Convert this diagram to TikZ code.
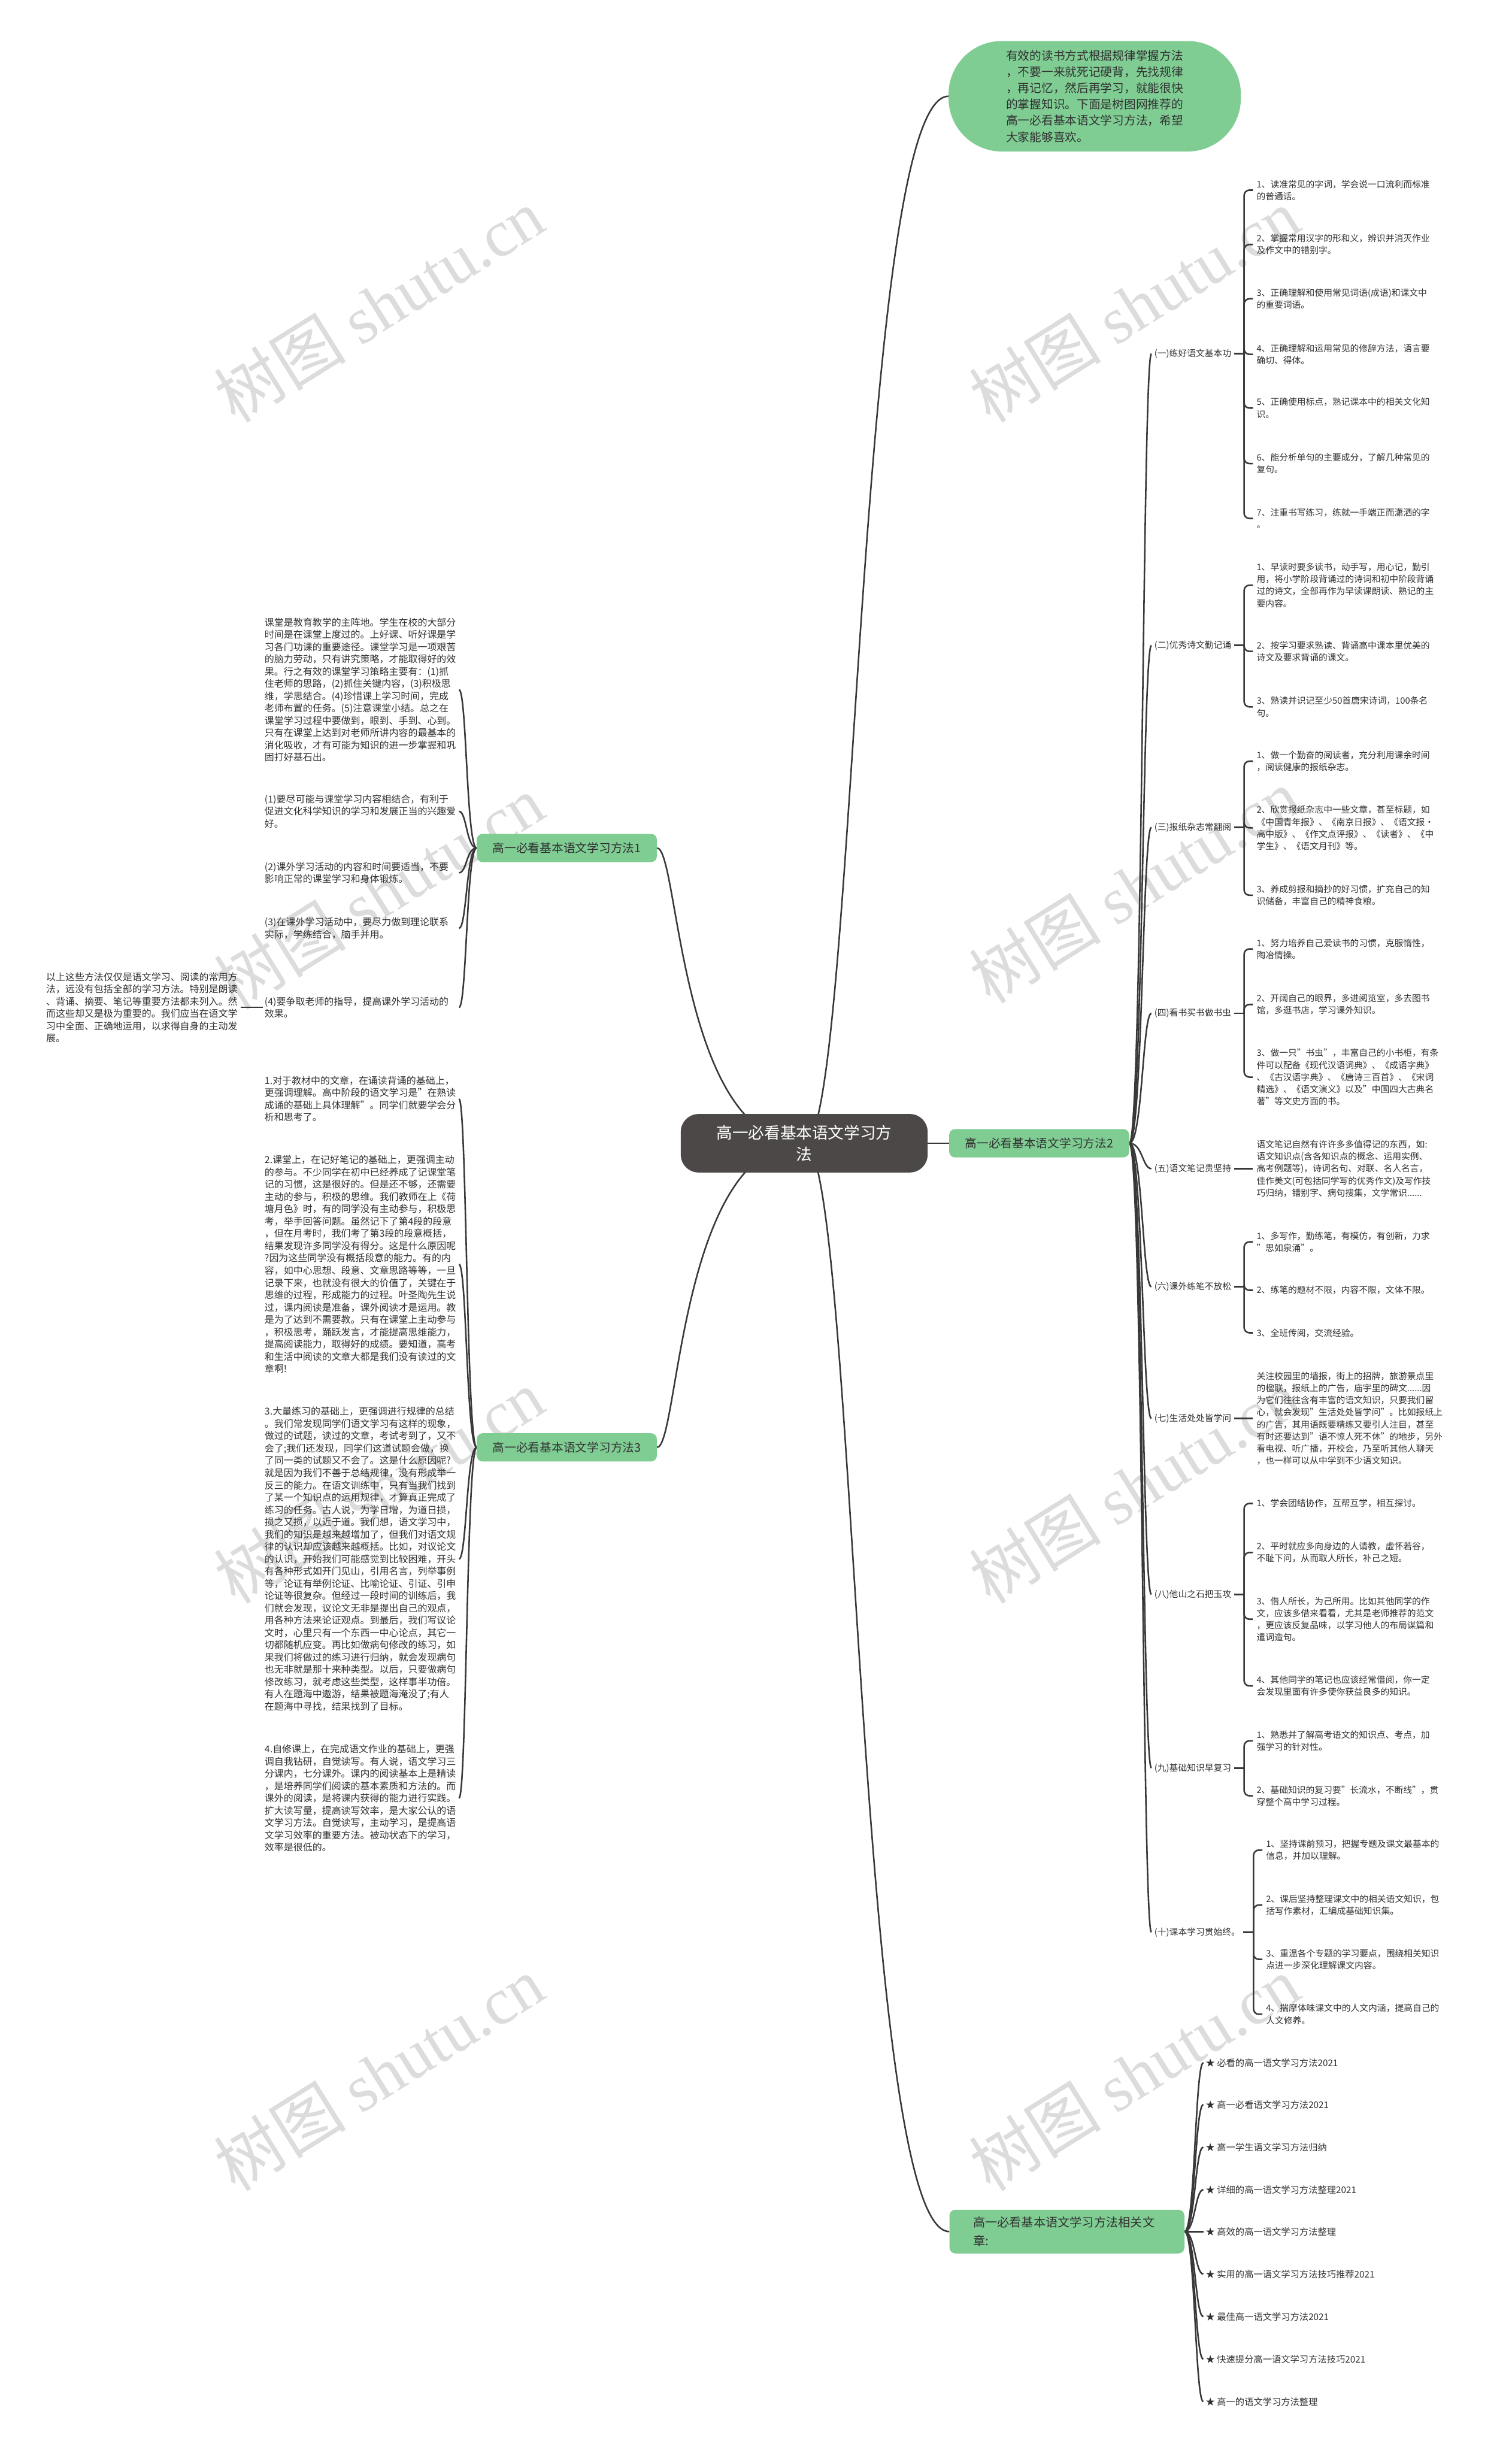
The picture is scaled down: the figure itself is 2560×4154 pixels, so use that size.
\documentclass[tikz,border=0pt]{standalone}
\usepackage{fontspec}
\setmainfont{Noto Sans CJK SC}
\newfontfamily\wmserif{Liberation Serif}
\pgfdeclarelayer{bg}
\pgfsetlayers{bg,main}
\definecolor{gbox}{HTML}{80CD94}
\definecolor{cbox}{HTML}{4D4848}
\definecolor{linec}{HTML}{383838}
\definecolor{txt}{HTML}{303030}
\definecolor{wmc}{HTML}{DCDCDC}
\tikzset{
  conn/.style={draw=linec, line width=2.6pt},
  brk/.style={conn, rounded corners=9pt},
  lbl/.style={anchor=west, inner sep=5pt, text=txt, font=\fontsize{15}{20.5}\selectfont},
  detail/.style={anchor=west, inner xsep=6pt, inner ysep=2pt, align=left, text=txt, font=\fontsize{15}{20.5}\selectfont},
  ltext/.style={anchor=west, inner sep=3pt, text width=326pt, align=left, text=txt, font=\fontsize{16.2}{20.8}\selectfont},
  reltxt/.style={anchor=west, inner sep=4pt, text=txt, font=\fontsize{15.5}{20}\selectfont},
  method/.style={fill=gbox, rounded corners=10pt, minimum width=305pt, minimum height=48pt, inner sep=0pt, text=txt, font=\fontsize{20}{26}\selectfont},
  wm/.style={rotate=32, text=wmc, font=\fontsize{112}{112}\selectfont, inner sep=0pt}
}
\begin{document}
\begin{tikzpicture}[x=1pt,y=-1pt]
\useasboundingbox (0,0) rectangle (2560,4154);

% ---------- main nodes ----------
\node[fill=cbox, rounded corners=30pt, minimum width=418pt, minimum height=99pt, text=white, align=center, font=\fontsize{27}{37}\selectfont] (center) at (1362,1936) {高一必看基本语文学习方\\法};
\node[fill=gbox, rounded corners=90pt, minimum width=495pt, minimum height=187pt, text width=300pt, align=left, text=txt, font=\fontsize{20}{27.5}\selectfont] (top) at (1854,163) {有效的读书方式根据规律掌握方法\\，不要一来就死记硬背，先找规律\\，再记忆，然后再学习，就能很快\\的掌握知识。下面是树图网推荐的\\高一必看基本语文学习方法，希望\\大家能够喜欢。};
\node[method] (m1) at (960,1436) {高一必看基本语文学习方法1};
\node[method] (m2) at (1760,1936) {高一必看基本语文学习方法2};
\node[method] (m3) at (960,2451) {高一必看基本语文学习方法3};
\node[method, minimum width=398pt, minimum height=74pt, text width=318pt, align=left, font=\fontsize{20.5}{31}\selectfont] (rel) at (1807,3779) {高一必看基本语文学习方法相关文\\章:};

% ---------- method 2 labels ----------
\node[lbl] (L1) at (1950,599) {(一)练好语文基本功};
\node[lbl] (L2) at (1950,1093) {(二)优秀诗文勤记诵};
\node[lbl] (L3) at (1950,1401) {(三)报纸杂志常翻阅};
\node[lbl] (L4) at (1950,1716) {(四)看书买书做书虫};
\node[lbl] (L5) at (1950,1979) {(五)语文笔记贵坚持};
\node[lbl] (L6) at (1950,2179) {(六)课外练笔不放松};
\node[lbl] (L7) at (1950,2402) {(七)生活处处皆学问};
\node[lbl] (L8) at (1950,2700) {(八)他山之石把玉攻};
\node[lbl] (L9) at (1950,2994) {(九)基础知识早复习};
\node[lbl] (L10) at (1950,3272) {(十)课本学习贯始终。};

% (一)
\node[detail] (a1) at (2122,322) {1、读准常见的字词，学会说一口流利而标准\\的普通话。};
\node[detail] (a2) at (2122,414) {2、掌握常用汉字的形和义，辨识并消灭作业\\及作文中的错别字。};
\node[detail] (a3) at (2122,506) {3、正确理解和使用常见词语(成语)和课文中\\的重要词语。};
\node[detail] (a4) at (2122,600) {4、正确理解和运用常见的修辞方法，语言要\\确切、得体。};
\node[detail] (a5) at (2122,691) {5、正确使用标点，熟记课本中的相关文化知\\识。};
\node[detail] (a6) at (2122,785) {6、能分析单句的主要成分，了解几种常见的\\复句。};
\node[detail] (a7) at (2122,878) {7、注重书写练习，练就一手端正而潇洒的字\\。};
% (二)
\node[detail] (b1) at (2122,991) {1、早读时要多读书，动手写，用心记，勤引\\用，将小学阶段背诵过的诗词和初中阶段背诵\\过的诗文，全部再作为早读课朗读、熟记的主\\要内容。};
\node[detail] (b2) at (2122,1103) {2、按学习要求熟读、背诵高中课本里优美的\\诗文及要求背诵的课文。};
\node[detail] (b3) at (2122,1197) {3、熟读并识记至少50首唐宋诗词，100条名\\句。};
% (三)
\node[detail] (c1) at (2122,1289) {1、做一个勤奋的阅读者，充分利用课余时间\\，阅读健康的报纸杂志。};
\node[detail] (c2) at (2122,1402) {2、欣赏报纸杂志中一些文章，甚至标题，如\\《中国青年报》、《南京日报》、《语文报·\\高中版》、《作文点评报》、《读者》、《中\\学生》、《语文月刊》等。};
\node[detail] (c3) at (2122,1516) {3、养成剪报和摘抄的好习惯，扩充自己的知\\识储备，丰富自己的精神食粮。};
% (四)
\node[detail] (d1) at (2122,1607) {1、努力培养自己爱读书的习惯，克服惰性，\\陶冶情操。};
\node[detail] (d2) at (2122,1701) {2、开阔自己的眼界，多进阅览室，多去图书\\馆，多逛书店，学习课外知识。};
\node[detail] (d3) at (2122,1824) {3、做一只"书虫"，丰富自己的小书柜，有条\\件可以配备《现代汉语词典》、《成语字典》\\、《古汉语字典》、《唐诗三百首》、《宋词\\精选》、《语文演义》以及"中国四大古典名\\著"等文史方面的书。};
% (五)
\node[detail] (e1) at (2122,1979) {语文笔记自然有许许多多值得记的东西，如:\\语文知识点(含各知识点的概念、运用实例、\\高考例题等)，诗词名句、对联、名人名言，\\佳作美文(可包括同学写的优秀作文)及写作技\\巧归纳，错别字、病句搜集，文学常识......};
% (六)
\node[detail] (f1) at (2122,2103) {1、多写作，勤练笔，有模仿，有创新，力求\\"思如泉涌"。};
\node[detail] (f2) at (2122,2185) {2、练笔的题材不限，内容不限，文体不限。};
\node[detail] (f3) at (2122,2257) {3、全班传阅，交流经验。};
% (七)
\node[detail] (g1) at (2122,2402) {关注校园里的墙报，街上的招牌，旅游景点里\\的楹联，报纸上的广告，庙宇里的碑文......因\\为它们往往含有丰富的语文知识，只要我们留\\心，就会发现"生活处处皆学问"。比如报纸上\\的广告，其用语既要精练又要引人注目，甚至\\有时还要达到"语不惊人死不休"的地步，另外\\看电视、听广播，开校会，乃至听其他人聊天\\，也一样可以从中学到不少语文知识。};
% (八)
\node[detail] (h1) at (2122,2546) {1、学会团结协作，互帮互学，相互探讨。};
\node[detail] (h2) at (2122,2629) {2、平时就应多向身边的人请教，虚怀若谷，\\不耻下问，从而取人所长，补己之短。};
\node[detail] (h3) at (2122,2742) {3、借人所长，为己所用。比如其他同学的作\\文，应该多借来看看，尤其是老师推荐的范文\\，更应该反复品味，以学习他人的布局谋篇和\\遣词造句。};
\node[detail] (h4) at (2122,2855) {4、其他同学的笔记也应该经常借阅，你一定\\会发现里面有许多使你获益良多的知识。};
% (九)
\node[detail] (i1) at (2122,2948) {1、熟悉并了解高考语文的知识点、考点，加\\强学习的针对性。};
\node[detail] (i2) at (2122,3041) {2、基础知识的复习要"长流水，不断线"，贯\\穿整个高中学习过程。};
% (十)
\node[detail] (j1) at (2138,3133) {1、坚持课前预习，把握专题及课文最基本的\\信息，并加以理解。};
\node[detail] (j2) at (2138,3226) {2、课后坚持整理课文中的相关语文知识，包\\括写作素材，汇编成基础知识集。};
\node[detail] (j3) at (2138,3318) {3、重温各个专题的学习要点，围绕相关知识\\点进一步深化理解课文内容。};
\node[detail] (j4) at (2138,3411) {4、揣摩体味课文中的人文内涵，提高自己的\\人文修养。};

% ---------- related list ----------
\node[reltxt] (r1) at (2038,3493) {★ 必看的高一语文学习方法2021};
\node[reltxt] (r2) at (2038,3564) {★ 高一必看语文学习方法2021};
\node[reltxt] (r3) at (2038,3636) {★ 高一学生语文学习方法归纳};
\node[reltxt] (r4) at (2038,3708) {★ 详细的高一语文学习方法整理2021};
\node[reltxt] (r5) at (2038,3779) {★ 高效的高一语文学习方法整理};
\node[reltxt] (r6) at (2038,3851) {★ 实用的高一语文学习方法技巧推荐2021};
\node[reltxt] (r7) at (2038,3923) {★ 最佳高一语文学习方法2021};
\node[reltxt] (r8) at (2038,3995) {★ 快速提分高一语文学习方法技巧2021};
\node[reltxt] (r9) at (2038,4067) {★ 高一的语文学习方法整理};

% ---------- method 1 children ----------
\node[ltext] (p0) at (445,1168) {课堂是教育教学的主阵地。学生在校的大部分\\时间是在课堂上度过的。上好课、听好课是学\\习各门功课的重要途径。课堂学习是一项艰苦\\的脑力劳动，只有讲究策略，才能取得好的效\\果。行之有效的课堂学习策略主要有：(1)抓\\住老师的思路，(2)抓住关键内容，(3)积极思\\维，学思结合。(4)珍惜课上学习时间，完成\\老师布置的任务。(5)注意课堂小结。总之在\\课堂学习过程中要做到，眼到、手到、心到。\\只有在课堂上达到对老师所讲内容的最基本的\\消化吸收，才有可能为知识的进一步掌握和巩\\固打好基石出。};
\node[ltext] (p1) at (445,1374) {(1)要尽可能与课堂学习内容相结合，有利于\\促进文化科学知识的学习和发展正当的兴趣爱\\好。};
\node[ltext] (p2) at (445,1478) {(2)课外学习活动的内容和时间要适当，不要\\影响正常的课堂学习和身体锻炼。};
\node[ltext] (p3) at (445,1572) {(3)在课外学习活动中，要尽力做到理论联系\\实际，学练结合，脑手并用。};
\node[ltext] (p4) at (445,1706) {(4)要争取老师的指导，提高课外学习活动的\\效果。};
\node[ltext] (far) at (75,1706) {以上这些方法仅仅是语文学习、阅读的常用方\\法，远没有包括全部的学习方法。特别是朗读\\、背诵、摘要、笔记等重要方法都未列入。然\\而这些却又是极为重要的。我们应当在语文学\\习中全面、正确地运用，以求得自身的主动发\\展。};

% ---------- method 3 children ----------
\node[ltext] (q1) at (445,1861) {1.对于教材中的文章，在诵读背诵的基础上，\\更强调理解。高中阶段的语文学习是"在熟读\\成诵的基础上具体理解"。同学们就要学会分\\析和思考了。};
\node[ltext] (q2) at (445,2141) {2.课堂上，在记好笔记的基础上，更强调主动\\的参与。不少同学在初中已经养成了记课堂笔\\记的习惯，这是很好的。但是还不够，还需要\\主动的参与，积极的思维。我们教师在上《荷\\塘月色》时，有的同学没有主动参与，积极思\\考，举手回答问题。虽然记下了第4段的段意\\，但在月考时，我们考了第3段的段意概括，\\结果发现许多同学没有得分。这是什么原因呢\\?因为这些同学没有概括段意的能力。有的内\\容，如中心思想、段意、文章思路等等，一旦\\记录下来，也就没有很大的价值了，关键在于\\思维的过程，形成能力的过程。叶圣陶先生说\\过，课内阅读是准备，课外阅读才是运用。教\\是为了达到不需要教。只有在课堂上主动参与\\，积极思考，踊跃发言，才能提高思维能力，\\提高阅读能力，取得好的成绩。要知道，高考\\和生活中阅读的文章大都是我们没有读过的文\\章啊!};
\node[ltext] (q3) at (445,2640) {3.大量练习的基础上，更强调进行规律的总结\\。我们常发现同学们语文学习有这样的现象，\\做过的试题，读过的文章，考试考到了，又不\\会了;我们还发现，同学们这道试题会做，换\\了同一类的试题又不会了。这是什么原因呢?\\就是因为我们不善于总结规律，没有形成举一\\反三的能力。在语文训练中，只有当我们找到\\了某一个知识点的运用规律，才算真正完成了\\练习的任务。古人说，为学日增，为道日损，\\损之又损，以近于道。我们想，语文学习中，\\我们的知识是越来越增加了，但我们对语文规\\律的认识却应该越来越概括。比如，对议论文\\的认识，开始我们可能感觉到比较困难，开头\\有各种形式如开门见山，引用名言，列举事例\\等，论证有举例论证、比喻论证、引证、引申\\论证等很复杂。但经过一段时间的训练后，我\\们就会发现，议论文无非是提出自己的观点，\\用各种方法来论证观点。到最后，我们写议论\\文时，心里只有一个东西一中心论点，其它一\\切都随机应变。再比如做病句修改的练习，如\\果我们将做过的练习进行归纳，就会发现病句\\也无非就是那十来种类型。以后，只要做病句\\修改练习，就考虑这些类型，这样事半功倍。\\有人在题海中遨游，结果被题海淹没了;有人\\在题海中寻找，结果找到了目标。};
\node[ltext] (q4) at (445,3045) {4.自修课上，在完成语文作业的基础上，更强\\调自我钻研，自觉读写。有人说，语文学习三\\分课内，七分课外。课内的阅读基本上是精读\\，是培养同学们阅读的基本素质和方法的。而\\课外的阅读，是将课内获得的能力进行实践。\\扩大读写量，提高读写效率，是大家公认的语\\文学习方法。自觉读写，主动学习，是提高语\\文学习效率的重要方法。被动状态下的学习，\\效率是很低的。};

\begin{pgfonlayer}{bg}
\fill[white] (0,0) rectangle (2560,4154);
% watermarks
\foreach \wx/\wy in {642/517, 1921/517, 642/1511, 1921/1500, 642/2517, 1921/2517, 642/3511, 1921/3511}
  \node[wm] at (\wx,\wy) {树图 {\wmserif shutu.cn}};

% center connectors
\draw[conn] (center.center) .. controls (1450,1936) and (1450,163) .. (top.west);
\draw[conn] (center.center) .. controls (1450,1936) and (1450,3779) .. (rel.west);
\draw[conn] (center.center) -- (m2.west);
\draw[conn] (center.center) .. controls (1150,1936) and (1150,1436) .. (m1.east);
\draw[conn] (center.center) .. controls (1150,1936) and (1150,2451) .. (m3.east);

% method2 -> labels
\foreach \n in {L1,L2,L3,L4,L5,L6,L7,L8,L9,L10}
  \draw[conn] (m2.east) .. controls (1935,1936) and ([xshift=-15pt]\n.west) .. (\n.west);

% label stubs and brackets
\draw[conn] (L1.east) -- (2107,599);
\foreach \n in {a1,a2,a3,a4,a5,a6,a7} \draw[brk] (2107,599) |- (\n.west);
\draw[conn] (L2.east) -- (2107,1093);
\foreach \n in {b1,b2,b3} \draw[brk] (2107,1093) |- (\n.west);
\draw[conn] (L3.east) -- (2107,1401);
\foreach \n in {c1,c2,c3} \draw[brk] (2107,1401) |- (\n.west);
\draw[conn] (L4.east) -- (2107,1716);
\foreach \n in {d1,d2,d3} \draw[brk] (2107,1716) |- (\n.west);
\draw[conn] (L5.east) -- (e1.west);
\draw[conn] (L6.east) -- (2107,2179);
\foreach \n in {f1,f2,f3} \draw[brk] (2107,2179) |- (\n.west);
\draw[conn] (L7.east) -- (g1.west);
\draw[conn] (L8.east) -- (2107,2700);
\foreach \n in {h1,h2,h3,h4} \draw[brk] (2107,2700) |- (\n.west);
\draw[conn] (L9.east) -- (2107,2994);
\foreach \n in {i1,i2} \draw[brk] (2107,2994) |- (\n.west);
\draw[conn] (L10.east) -- (2123,3272);
\foreach \n in {j1,j2,j3,j4} \draw[brk] (2123,3272) |- (\n.west);

% related list
\foreach \n in {r1,r2,r3,r4,r5,r6,r7,r8,r9}
  \draw[conn] (rel.east) .. controls (2024,3779) and ([xshift=-14pt]\n.west) .. (\n.west);

% method1 children
\foreach \n in {p0,p1,p2,p3,p4}
  \draw[conn] (m1.west) .. controls (790,1436) and ([xshift=13pt]\n.east) .. (\n.east);
\draw[conn] (far.east) -- (p4.west);

% method3 children
\foreach \n in {q1,q2,q3,q4}
  \draw[conn] (m3.west) .. controls (790,2451) and ([xshift=13pt]\n.east) .. (\n.east);
\end{pgfonlayer}
\end{tikzpicture}
\end{document}
